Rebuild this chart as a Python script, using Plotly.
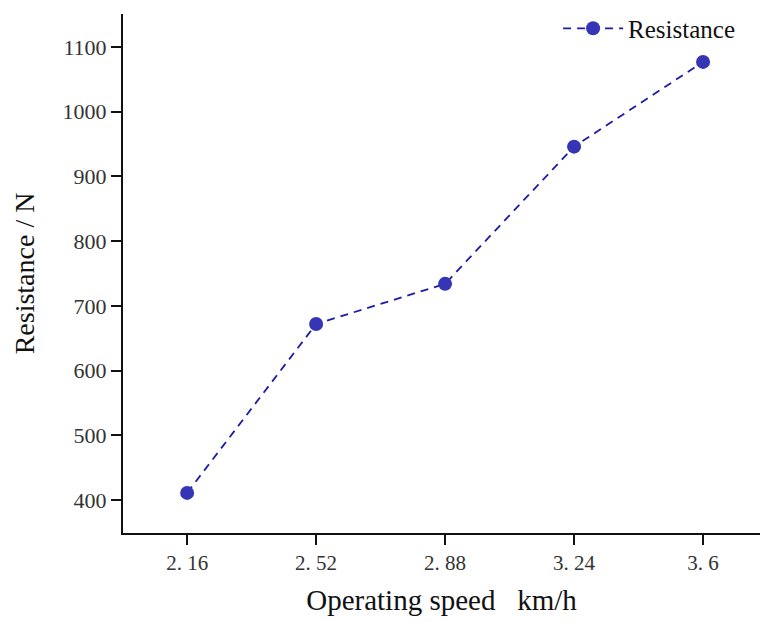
import plotly.graph_objects as go

speed = [2.16, 2.52, 2.88, 3.24, 3.6]
speed_labels = ["2. 16", "2. 52", "2. 88", "3. 24", "3. 6"]
resistance = [411, 672, 734, 946, 1077]
y_ticks = [400, 500, 600, 700, 800, 900, 1000, 1100]

fig = go.Figure()
fig.add_trace(go.Scatter(
    x=speed, y=resistance, mode="lines+markers", name="Resistance",
    line=dict(color="#1c1ca8", width=1.8, dash="8px,6px"),
    marker=dict(color="#3535b5", size=14),
))

fig.update_layout(
    width=760, height=621,
    margin=dict(l=123, r=0, t=14, b=88),
    paper_bgcolor="white", plot_bgcolor="white",
    font=dict(family="Liberation Serif, DejaVu Serif, serif", color="#222"),
    showlegend=True,
    legend=dict(x=0.683, y=0.972, xanchor="left", yanchor="middle",
                itemwidth=60,
                font=dict(size=25, color="#111"), bgcolor="rgba(0,0,0,0)"),
    xaxis=dict(
        range=[1.981, 3.759], tickvals=speed, ticktext=speed_labels,
        showline=True, linecolor="#111", linewidth=2, mirror=False,
        ticks="outside", ticklen=10, tickwidth=2, tickcolor="#111",
        showgrid=False, zeroline=False,
        tickfont=dict(size=21, family="Liberation Serif, serif", color="#333"),
        title=dict(text="Operating speed\u00a0\u00a0\u00a0km/h\u00a0\u00a0\u00a0",
                   font=dict(size=29, color="#111"), standoff=15),
    ),
    yaxis=dict(
        range=[349, 1151], tickvals=y_ticks,
        showline=True, linecolor="#111", linewidth=2, mirror=False,
        ticks="outside", ticklen=10, tickwidth=2, tickcolor="#111",
        showgrid=False, zeroline=False,
        tickfont=dict(size=22, family="Liberation Serif, serif", color="#333"),
        title=dict(text="Resistance / N", font=dict(size=28, color="#111"), standoff=20),
    ),
)

fig.write_html("out.html")
